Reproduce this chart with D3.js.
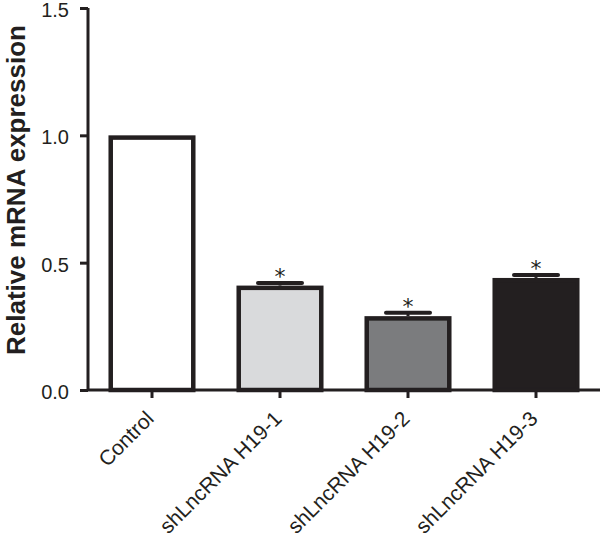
<!DOCTYPE html>
<html><head><meta charset="utf-8">
<script src="https://cdn.jsdelivr.net/npm/d3@7"></script>
<style>body{margin:0;background:#fff}svg{display:block}text{font-family:"Liberation Sans",Arial,sans-serif;fill:#231f20}</style>
</head><body>
<svg id="c" width="600" height="539"></svg>
<script>
const categories = ["Control","shLncRNA H19-1","shLncRNA H19-2","shLncRNA H19-3"];
const values = [1.0, 0.41, 0.29, 0.44];
const errors = [0, 0.01, 0.013, 0.012];
const significant = [false, true, true, true];
const fills = ["#ffffff","#d9dadc","#7b7c7e","#231f20"];
const yTicks = [0, 0.5, 1.0, 1.5];
const yTitle = "Relative mRNA expression";

const svg = d3.select("#c");
const ink = "#231f20";
const x0 = 88, x1 = 600, yTop = 8, yBot = 390;
const x = d3.scaleBand().domain(categories).range([x0, x1]).paddingInner(0.32).paddingOuter(0.16);
const y = d3.scaleLinear().domain([0, 1.5]).range([yBot, yTop]);
const sw = 4.5;

// bars
const g = svg.append("g");
categories.forEach((c, i) => {
  const v = values[i];
  g.append("rect")
    .attr("x", x(c) + sw/2).attr("width", x.bandwidth() - sw)
    .attr("y", y(v) + sw/2).attr("height", y(0) - y(v) - sw/2)
    .attr("fill", fills[i]).attr("stroke", ink).attr("stroke-width", sw);
  if (errors[i] > 0) {
    const cx = x(c) + x.bandwidth()/2;
    g.append("line").attr("x1", cx).attr("x2", cx).attr("y1", y(v)).attr("y2", y(v + errors[i]))
      .attr("stroke", ink).attr("stroke-width", 3);
    g.append("line").attr("x1", cx - 22).attr("x2", cx + 22).attr("y1", y(v + errors[i])).attr("y2", y(v + errors[i]))
      .attr("stroke", ink).attr("stroke-width", 4).attr("stroke-linecap", "round");
  }
  if (significant[i]) {
    g.append("text").attr("x", x(c) + x.bandwidth()/2).attr("y", y(v + errors[i]) + 1)
      .attr("text-anchor", "middle").attr("font-size", 22)
      .style("font-family", "'DejaVu Sans', sans-serif").text("*");
  }
});

// y axis
const ya = svg.append("g").attr("transform", `translate(${x0},0)`)
  .call(d3.axisLeft(y).tickValues(yTicks).tickFormat(d3.format(".1f")).tickSize(8).tickPadding(11));
ya.select(".domain").attr("stroke", ink).attr("stroke-width", 3).attr("d", `M0,${yTop}V${yBot}`);
ya.selectAll(".tick line").attr("stroke", ink).attr("stroke-width", 3);
ya.selectAll(".tick text").attr("font-size", 20).attr("fill", ink).attr("font-family", "Liberation Sans, Arial, sans-serif").attr("dy", "0.42em");

// x axis
const xa = svg.append("g").attr("transform", `translate(0,${yBot})`)
  .call(d3.axisBottom(x).tickSize(8).tickSizeOuter(0));
xa.select(".domain").attr("stroke", ink).attr("stroke-width", 3).attr("d", `M${x0},0H${x1}`);
xa.selectAll(".tick line").attr("stroke", ink).attr("stroke-width", 3);
xa.selectAll(".tick text")
  .attr("font-size", 21).attr("fill", ink).attr("font-family", "Liberation Sans, Arial, sans-serif")
  .attr("text-anchor", "end").attr("dy", null).attr("y", null)
  .attr("transform", "translate(3,30) rotate(-45)");

// y title
svg.append("text").attr("transform", `translate(25,190) rotate(-90)`)
  .attr("text-anchor", "middle").attr("font-size", 26).attr("font-weight", "bold").text(yTitle);
</script>
</body></html>
